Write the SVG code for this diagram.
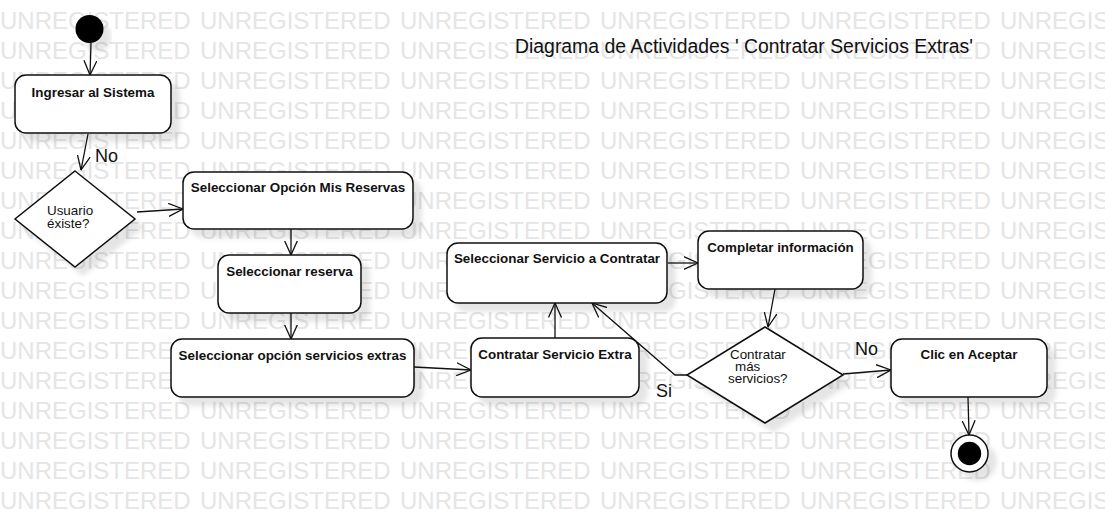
<svg xmlns="http://www.w3.org/2000/svg" width="1105" height="532" viewBox="0 0 1105 532">
<defs>
<style>
.wm{font-family:"Liberation Sans",Arial,sans-serif;font-size:24px;fill:#e5e5e5;word-spacing:2.65px}
.box{fill:#fff;stroke:#111;stroke-width:1.5}
.lbl{font-family:"Liberation Sans",Arial,sans-serif;font-size:13.4px;font-weight:bold;fill:#111;text-anchor:middle}
.dtx{font-family:"Liberation Sans",Arial,sans-serif;font-size:13.4px;fill:#111}
.guard{font-family:"Liberation Sans",Arial,sans-serif;font-size:18px;fill:#111}
.title{font-family:"Liberation Sans",Arial,sans-serif;font-size:19.4px;fill:#111}
.edge{fill:none;stroke:#111;stroke-width:1.3;marker-end:url(#arr)}
.shd{filter:url(#sh)}
</style>
<filter id="sh" x="-20%" y="-20%" width="150%" height="160%">
<feDropShadow dx="8" dy="8" stdDeviation="2.5" flood-color="#000" flood-opacity="0.1"/>
</filter>
<marker id="arr" markerUnits="userSpaceOnUse" viewBox="0 0 15 14" refX="14.5" refY="7" markerWidth="15" markerHeight="14" orient="auto">
<path d="M0,0.5 L14.5,7 L0,13.5" fill="none" stroke="#111" stroke-width="1.3"/>
</marker>
</defs>
<rect x="0" y="0" width="1105" height="532" fill="#fff"/>
<g id="watermark">
<text class="wm" x="0" y="29">UNREGISTERED UNREGISTERED UNREGISTERED UNREGISTERED UNREGISTERED UNREGISTERED</text>
<text class="wm" x="0" y="59">UNREGISTERED UNREGISTERED UNREGISTERED UNREGISTERED UNREGISTERED UNREGISTERED</text>
<text class="wm" x="0" y="89">UNREGISTERED UNREGISTERED UNREGISTERED UNREGISTERED UNREGISTERED UNREGISTERED</text>
<text class="wm" x="0" y="119">UNREGISTERED UNREGISTERED UNREGISTERED UNREGISTERED UNREGISTERED UNREGISTERED</text>
<text class="wm" x="0" y="149">UNREGISTERED UNREGISTERED UNREGISTERED UNREGISTERED UNREGISTERED UNREGISTERED</text>
<text class="wm" x="0" y="179">UNREGISTERED UNREGISTERED UNREGISTERED UNREGISTERED UNREGISTERED UNREGISTERED</text>
<text class="wm" x="0" y="209">UNREGISTERED UNREGISTERED UNREGISTERED UNREGISTERED UNREGISTERED UNREGISTERED</text>
<text class="wm" x="0" y="239">UNREGISTERED UNREGISTERED UNREGISTERED UNREGISTERED UNREGISTERED UNREGISTERED</text>
<text class="wm" x="0" y="269">UNREGISTERED UNREGISTERED UNREGISTERED UNREGISTERED UNREGISTERED UNREGISTERED</text>
<text class="wm" x="0" y="299">UNREGISTERED UNREGISTERED UNREGISTERED UNREGISTERED UNREGISTERED UNREGISTERED</text>
<text class="wm" x="0" y="329">UNREGISTERED UNREGISTERED UNREGISTERED UNREGISTERED UNREGISTERED UNREGISTERED</text>
<text class="wm" x="0" y="359">UNREGISTERED UNREGISTERED UNREGISTERED UNREGISTERED UNREGISTERED UNREGISTERED</text>
<text class="wm" x="0" y="389">UNREGISTERED UNREGISTERED UNREGISTERED UNREGISTERED UNREGISTERED UNREGISTERED</text>
<text class="wm" x="0" y="419">UNREGISTERED UNREGISTERED UNREGISTERED UNREGISTERED UNREGISTERED UNREGISTERED</text>
<text class="wm" x="0" y="449">UNREGISTERED UNREGISTERED UNREGISTERED UNREGISTERED UNREGISTERED UNREGISTERED</text>
<text class="wm" x="0" y="479">UNREGISTERED UNREGISTERED UNREGISTERED UNREGISTERED UNREGISTERED UNREGISTERED</text>
<text class="wm" x="0" y="509">UNREGISTERED UNREGISTERED UNREGISTERED UNREGISTERED UNREGISTERED UNREGISTERED</text>
</g>
<text id="title" class="title" x="515" y="53">Diagrama de Actividades ' Contratar Servicios Extras'</text>
<g id="connectors">
<path class="edge" d="M91,43 L90,75"/>
<path class="edge" d="M88,134 L81,170"/>
<text class="guard" x="95" y="162">No</text>
<path class="edge" d="M137,212 L183,209"/>
<path class="edge" d="M291,229 L291,255"/>
<path class="edge" d="M291,313 L291,339"/>
<path class="edge" d="M414,367 L471,370"/>
<path class="edge" d="M555,338 L555,303"/>
<path class="edge" d="M668,263 L698,263"/>
<path class="edge" d="M775,289 L768,327"/>
<path class="edge" d="M687,375 L675,375 L592,303"/>
<text class="guard" x="656" y="397">Si</text>
<path class="edge" d="M843,374 L891,370"/>
<text class="guard" x="855" y="355">No</text>
<path class="edge" d="M968,397 L969,435"/>
</g>
<g id="start"><circle class="shd" cx="89.5" cy="29" r="14" fill="#000"/></g>
<g id="ingresar"><rect class="box shd" x="15" y="75" width="156" height="58" rx="11"/><text class="lbl" x="93" y="97">Ingresar al Sistema</text></g>
<g id="usuario-existe"><polygon class="box shd" points="75,171 135,219 75,267 15,219"/><text class="dtx" x="47" y="215">Usuario</text><text class="dtx" x="47" y="228">éxiste?</text></g>
<g id="opcion-mis-reservas"><rect class="box shd" x="183" y="172" width="230" height="57" rx="11"/><text class="lbl" x="298" y="192">Seleccionar Opción Mis Reservas</text></g>
<g id="seleccionar-reserva"><rect class="box shd" x="218" y="255" width="143" height="58" rx="11"/><text class="lbl" x="289.5" y="276">Seleccionar reserva</text></g>
<g id="opcion-servicios-extras"><rect class="box shd" x="171" y="339" width="243" height="58" rx="11"/><text class="lbl" x="292.5" y="360">Seleccionar opción servicios extras</text></g>
<g id="contratar-servicio-extra"><rect class="box shd" x="471" y="338" width="168" height="59" rx="11"/><text class="lbl" x="555" y="359">Contratar Servicio Extra</text></g>
<g id="seleccionar-servicio"><rect class="box shd" x="447" y="243" width="220" height="60" rx="11"/><text class="lbl" x="557" y="263">Seleccionar Servicio a Contratar</text></g>
<g id="completar-informacion"><rect class="box shd" x="698" y="231" width="165" height="58" rx="11"/><text class="lbl" x="780.5" y="252">Completar información</text></g>
<g id="contratar-mas"><polygon class="box shd" points="765,327 843,375 765,423 687,375"/><text class="dtx" x="730" y="359">Contratar</text><text class="dtx" x="735" y="371">más</text><text class="dtx" x="728" y="383">servicios?</text></g>
<g id="clic-aceptar"><rect class="box shd" x="891" y="339" width="156" height="58" rx="11"/><text class="lbl" x="969" y="359">Clic en Aceptar</text></g>
<g id="end"><circle class="shd" cx="969.5" cy="453.5" r="18.5" fill="#fff" stroke="#111" stroke-width="1.5"/><circle cx="969.5" cy="453.5" r="11.7" fill="#000"/></g>
</svg>
